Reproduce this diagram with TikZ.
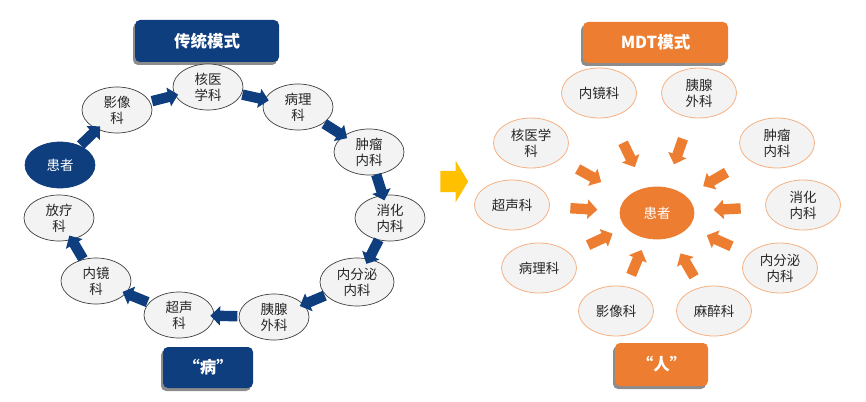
\documentclass[tikz,border=0pt]{standalone}
\usepackage{fontspec}
\newfontfamily\cjk{Noto Sans CJK SC}
\usetikzlibrary{shapes.geometric,shapes.arrows,shadows}
\definecolor{navy}{HTML}{0F3E7F}
\definecolor{mdtorange}{HTML}{ED7D31}
\definecolor{lightorange}{HTML}{F4B183}
\definecolor{gold}{HTML}{FFC000}
\definecolor{cellfill}{HTML}{F3F3F3}
\definecolor{txt}{HTML}{262626}
\begin{document}
\begin{tikzpicture}[x=1pt,y=-1pt,
  dept/.style={ellipse, draw=black!75, line width=0.7pt, fill=cellfill,
    minimum width=70pt, minimum height=46pt, inner sep=0pt, align=center,
    font=\cjk\fontsize{13.5}{16}\selectfont, text=txt},
  patL/.style={dept, fill=navy, draw=navy, text=white},
  mdept/.style={dept, draw=lightorange, line width=0.8pt, minimum width=75pt, minimum height=50pt},
  patR/.style={mdept, fill=mdtorange, draw=mdtorange, text=white, minimum width=74pt, minimum height=52pt},
  titlebox/.style={rounded corners=5pt, inner sep=0pt, text=white,
    font=\cjk\bfseries\fontsize{16.5}{18}\selectfont,
    drop shadow={shadow xshift=-2pt, shadow yshift=-3pt, fill=black!45, opacity=1}},
  bluebox/.style={titlebox, fill=navy},
  orangebox/.style={titlebox, fill=mdtorange},
  barrow/.style={single arrow, fill=navy, draw=none, inner sep=5pt,
    single arrow head extend=4.5pt, minimum height=27pt, sloped,
    allow upside down, pos=0.5},
  oarrow/.style={barrow, fill=mdtorange},
  goldarrow/.style={single arrow, fill=gold, draw=none, inner sep=10.5pt,
    single arrow head extend=10pt, single arrow tip angle=118, minimum height=26pt}
]
\useasboundingbox (0,0) rectangle (866,401);

% ---------------- left: traditional mode ----------------
\node[bluebox, minimum width=144pt, minimum height=42pt] (tL) at (207,41) {传统模式};
\node[bluebox, minimum width=90pt, minimum height=41pt] (bL) at (208,367.5) {“病”};

\node[patL] (lp)  at (60,165)  {患者};
\node[dept] (l1)  at (117,110) {影像\\科};
\node[dept] (l2)  at (208,87)  {核医\\学科};
\node[dept] (l3)  at (298,107) {病理\\科};
\node[dept] (l4)  at (369,152) {肿瘤\\内科};
\node[dept] (l5)  at (390,218) {消化\\内科};
\node[dept, minimum width=74pt, minimum height=48pt] (l6)  at (357,282) {内分泌\\内科};
\node[dept] (l7)  at (274,317) {胰腺\\外科};
\node[dept] (l8)  at (179,315) {超声\\科};
\node[dept] (l9)  at (96,281)  {内镜\\科};
\node[dept] (l10) at (59,218)  {放疗\\科};

\path (lp) -- node[barrow]{} (l1);
\path (l1) -- node[barrow]{} (l2);
\path (l2) -- node[barrow]{} (l3);
\path (l3) -- node[barrow]{} (l4);
\path (l4) -- node[barrow]{} (l5);
\path (l5) -- node[barrow]{} (l6);
\path (l6) -- node[barrow]{} (l7);
\path (l7) -- node[barrow]{} (l8);
\path (l8) -- node[barrow]{} (l9);
\path (l9) -- node[barrow]{} (l10);

% ---------------- middle arrow ----------------
\node[goldarrow] (mid) at (451,181.5) {};

% ---------------- right: MDT mode ----------------
\node[orangebox, minimum width=145pt, minimum height=41pt] (tR) at (655.5,42.5) {MDT模式};
\node[orangebox, minimum width=93pt, minimum height=43pt] (bR) at (661.5,364.5) {“人”};

\node[patR] (rp) at (657,213) {患者};
\node[mdept] (r1)  at (599,93)  {内镜科};
\node[mdept] (r2)  at (699,93)  {胰腺\\外科};
\node[mdept] (r3)  at (531,143) {核医学\\科};
\node[mdept] (r4)  at (777,143) {肿瘤\\内科};
\node[mdept] (r5)  at (512,205) {超声科};
\node[mdept] (r6)  at (803,205) {消化\\内科};
\node[mdept] (r7)  at (539,268) {病理科};
\node[mdept] (r8)  at (780,268) {内分泌\\内科};
\node[mdept] (r9)  at (616,311) {影像科};
\node[mdept] (r10) at (714,311) {麻醉科};

\path (r1) -- node[oarrow]{} (rp);
\path (r2) -- node[oarrow, pos=0.45]{} (rp);
\path (r3) -- node[oarrow, pos=0.4]{} (rp);
\path (r4) -- node[oarrow]{} (rp);
\path (r5) -- node[oarrow, pos=0.45]{} (rp);
\path (r6) -- node[oarrow]{} (rp);
\path (r7) -- node[oarrow, pos=0.5]{} (rp);
\path (r8) -- node[oarrow, pos=0.45]{} (rp);
\path (r9) -- node[oarrow, pos=0.45]{} (rp);
\path (r10) -- node[oarrow, pos=0.4]{} (rp);
\end{tikzpicture}
\end{document}
